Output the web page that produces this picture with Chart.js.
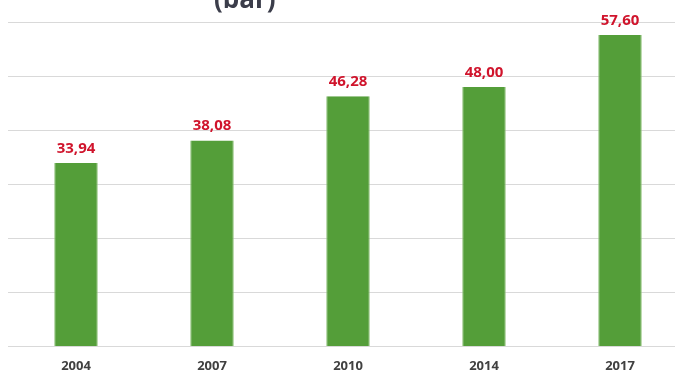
<!DOCTYPE html>
<html>
<head>
<meta charset="utf-8">
<script src="https://cdn.jsdelivr.net/npm/chart.js@4/dist/chart.umd.min.js"></script>
<style>
    html, body { margin: 0; padding: 0; background: #fff; overflow: hidden; }
    body { width: 675px; height: 373px; position: relative; }
    #title {
        position: absolute; left: 214px; top: -20px;
        font: bold 26px "Open Sans", sans-serif; color: #3b3d4a;
        white-space: nowrap;
    }
    #wrap { position: absolute; left: 0; top: 0; width: 690px; height: 386px; }
</style>
</head>
<body>
<div id="wrap"><canvas id="salesChart"></canvas></div>
<div id="title">(bar)</div>
<script>
const years = ['2004', '2007', '2010', '2014', '2017'];
const values = [33.94, 38.08, 46.28, 48.00, 57.60];
const yTicks = [0, 10, 20, 30, 40, 50, 60];

const formatVN = (n) => n.toFixed(2).replace('.', ',');

// value labels above each bar
const valueLabels = {
    id: 'valueLabels',
    afterDatasetsDraw(chart) {
        const { ctx } = chart;
        const meta = chart.getDatasetMeta(0);
        ctx.save();
        ctx.font = 'bold 15px "Open Sans", sans-serif';
        ctx.fillStyle = '#d0142c';
        ctx.textAlign = 'center';
        ctx.textBaseline = 'bottom';
        meta.data.forEach((bar, i) => {
            ctx.fillText(formatVN(values[i]), bar.x, bar.y - 7);
        });
        ctx.restore();
    }
};

new Chart(document.getElementById('salesChart'), {
    type: 'bar',
    data: {
        labels: years,
        datasets: [{
            data: values,
            backgroundColor: '#549e39',
            borderColor: '#8cc076',
            borderWidth: { left: 1, right: 1, top: 0, bottom: 0 },
            categoryPercentage: 1,
            barPercentage: 0.32
        }]
    },
    options: {
        responsive: true,
        maintainAspectRatio: false,
        animation: false,
        layout: { padding: { left: 8, right: 2, top: 22, bottom: 0 } },
        plugins: { legend: { display: false }, tooltip: { enabled: false } },
        scales: {
            x: {
                grid: { display: false, drawTicks: false },
                border: { display: false },
                ticks: {
                    color: '#404040',
                    padding: 12,
                    font: { family: 'Open Sans', weight: 'bold', size: 13 }
                }
            },
            y: {
                min: 0,
                max: 60,
                afterBuildTicks: (axis) => { axis.ticks = yTicks.map(v => ({ value: v })); },
                grid: { color: '#d9d9d9', lineWidth: 1, drawTicks: false },
                border: { display: false },
                ticks: { display: false }
            }
        }
    },
    plugins: [valueLabels]
});
</script>
</body>
</html>
